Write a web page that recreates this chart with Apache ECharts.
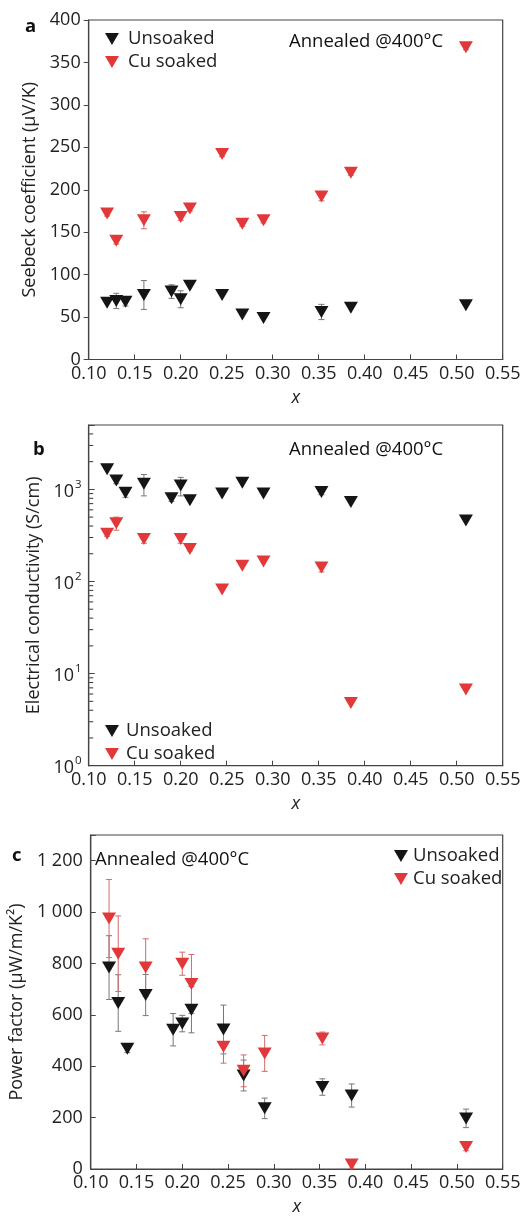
<!DOCTYPE html>
<html>
<head>
<meta charset="utf-8">
<script src="https://cdn.jsdelivr.net/npm/echarts@6/dist/echarts.min.js"></script>
<style>
  html, body { margin: 0; padding: 0; background: #fff; }
  #chart { width: 524px; height: 1217px; }
</style>
</head>
<body>
<div id="chart"></div>
<script>
// x positions (composition x)
var xUnsoaked = [0.12, 0.13, 0.14, 0.16, 0.19, 0.20, 0.21, 0.245, 0.267, 0.29, 0.353, 0.385, 0.51];
var xCuSoaked = [0.12, 0.13, 0.16, 0.20, 0.21, 0.245, 0.267, 0.29, 0.353, 0.385, 0.51];

// a: Seebeck coefficient (uV/K)
var seebeckUnsoaked = [67, 69, 68, 76, 80, 71, 87, 76, 53, 49, 56, 61, 64];
var seebeckUnsoakedErr = [0, 9, 5, 17, 8, 10, 0, 0, 0, 0, 9, 0, 0];
var seebeckCu = [172, 140, 164, 168, 178, 242, 160, 164, 192, 220, 368];
var seebeckCuErr = [3, 4, 10, 4, 3, 3, 3, 3, 5, 3, 3];

// b: electrical conductivity (S/cm)
var condUnsoaked = [1650, 1250, 920, 1150, 800, 1100, 760, 900, 1180, 900, 935, 730, 460];
var condUnsoakedErr = [0, 100, 100, 300, 60, 250, 0, 0, 0, 0, 60, 0, 0];
var condCu = [330, 430, 290, 290, 225, 82, 148, 165, 142, 4.8, 6.7];
var condCuErr = [20, 70, 30, 30, 10, 0, 0, 0, 15, 0, 0];

// c: power factor (uW/m/K^2)
var pfUnsoaked = [784, 646, 468, 677, 542, 566, 620, 543, 364, 236, 319, 286, 197];
var pfUnsoakedErr = [124, 110, 15, 80, 63, 32, 90, 95, 60, 40, 32, 45, 36];
var pfCu = [975, 838, 784, 799, 720, 476, 382, 450, 508, 18, 86];
var pfCuErr = [152, 147, 112, 45, 115, 64, 62, 70, 25, 15, 15];

// minor ticks of the log axis in panel b
var logMinor = [2, 3, 4, 5, 6, 7, 8, 9, 20, 30, 40, 50, 60, 70, 80, 90,
  200, 300, 400, 500, 600, 700, 800, 900, 2000, 3000, 4000];

var FONT = '"Open Sans", "Noto Sans", sans-serif';
var RED = '#e2383a';
var BLACK = '#151515';
var TRI = 'path://M0,0 L10,0 L5,8.6 Z';

var chart = echarts.init(document.getElementById('chart'));

function pairs(xs, ys) {
  return xs.map(function (x, i) { return [x, ys[i]]; });
}
function errData(xs, ys, es) {
  var out = [];
  xs.forEach(function (x, i) {
    if (es[i] > 0) out.push([x, ys[i] - es[i], ys[i] + es[i]]);
  });
  return out;
}
function errSeries(idx, data, color) {
  return {
    type: 'custom',
    name: 'err' + idx + color,
    xAxisIndex: idx,
    yAxisIndex: idx,
    z: 1,
    silent: true,
    encode: { x: 0, y: [1, 2] },
    data: data,
    renderItem: function (params, api) {
      var x = api.value(0);
      var top = api.coord([x, api.value(2)]);
      var bot = api.coord([x, api.value(1)]);
      var st = { stroke: color, lineWidth: 1 };
      return {
        type: 'group',
        children: [
          { type: 'line', shape: { x1: top[0], y1: top[1], x2: bot[0], y2: bot[1] }, style: st },
          { type: 'line', shape: { x1: top[0] - 3, y1: top[1], x2: top[0] + 3, y2: top[1] }, style: st },
          { type: 'line', shape: { x1: bot[0] - 3, y1: bot[1], x2: bot[0] + 3, y2: bot[1] }, style: st }
        ]
      };
    }
  };
}
function scatter(idx, name, data, color) {
  return {
    type: 'scatter',
    name: name,
    xAxisIndex: idx,
    yAxisIndex: idx,
    z: 3,
    symbol: TRI,
    symbolSize: [14, 12],
    itemStyle: { color: color, opacity: 1 },
    data: data
  };
}
function xAxis(idx) {
  return {
    gridIndex: idx,
    type: 'value',
    min: 0.1,
    max: 0.55,
    interval: 0.05,
    name: 'x',
    nameLocation: 'middle',
    nameGap: 29,
    nameTextStyle: { fontFamily: FONT, fontSize: 18, fontStyle: 'italic', color: '#222' },
    axisLine: { lineStyle: { color: '#444', width: 1.2 } },
    axisTick: { inside: true, length: 5, lineStyle: { color: '#444' } },
    axisLabel: {
      fontFamily: FONT, fontSize: 18, color: '#222', margin: 5,
      formatter: function (v) { return v.toFixed(2); }
    },
    splitLine: { show: false }
  };
}
function legend(left, top, gap) {
  return {
    left: left, top: top, orient: 'vertical',
    itemWidth: 14, itemHeight: 12, itemGap: 3,
    data: ['Unsoaked', 'Cu soaked'],
    textStyle: { fontFamily: FONT, fontSize: 18.5, color: '#222', lineHeight: 20, padding: [0, 0, 0, gap] },
    selectedMode: false
  };
}
function txt(x, y, s, bold) {
  return {
    type: 'text', left: x, top: y,
    style: { text: s, font: (bold ? 'bold ' : '') + '18.5px ' + FONT, fill: '#111', verticalAlign: 'middle' }
  };
}

var grids = [
  { left: 88.7, top: 20, width: 414, height: 339.5 },
  { left: 88.7, top: 425, width: 414, height: 340.7 },
  { left: 88.7, top: 835, width: 414, height: 339 }
].map(function (g) {
  return Object.assign({ show: true, borderColor: '#444', borderWidth: 1.2, backgroundColor: 'transparent' }, g);
});

var yName = { fontFamily: FONT, fontSize: 18, color: '#222' };
var yLab = { fontFamily: FONT, fontSize: 18, color: '#222', margin: 8 };

chart.setOption({
  animation: false,
  textStyle: { fontFamily: FONT },
  grid: grids,
  xAxis: [xAxis(0), xAxis(1), xAxis(2)],
  yAxis: [
    {
      gridIndex: 0, type: 'value', min: 0, max: 400, interval: 50,
      name: 'Seebeck coefficient (μV/K)', nameLocation: 'middle', nameGap: 44,
      nameTextStyle: yName,
      axisLine: { show: true, lineStyle: { color: '#444', width: 1.2 } },
      axisTick: { show: true, inside: false, length: 5, lineStyle: { color: '#444' } },
      axisLabel: yLab,
      splitLine: { show: false }
    },
    {
      gridIndex: 1, type: 'log', logBase: 10, min: 1, max: 5000,
      name: 'Electrical conductivity (S/cm)', nameLocation: 'middle', nameGap: 38,
      nameTextStyle: yName,
      axisLine: { show: true, lineStyle: { color: '#444', width: 1.2 } },
      axisTick: { show: true, inside: true, length: 6, lineStyle: { color: '#444' } },
      axisLabel: {
        fontFamily: FONT, color: '#222', margin: 7,
        formatter: function (v) {
          var e = Math.log(v) / Math.LN10;
          if (Math.abs(e - Math.round(e)) > 1e-6) return '';
          return '{b|10}{s|' + Math.round(e) + '}';
        },
        rich: {
          b: { fontFamily: FONT, fontSize: 18, color: '#222', lineHeight: 22, verticalAlign: 'bottom' },
          s: { fontFamily: FONT, fontSize: 11.5, color: '#222', lineHeight: 22, verticalAlign: 'top', padding: [0, 0, 0, 1] }
        }
      },
      splitLine: { show: false }
    },
    {
      gridIndex: 2, type: 'value', min: 0, max: 1300, interval: 200,
      name: 'Power factor (μW/m/K²)', nameLocation: 'middle', nameGap: 60,
      nameTextStyle: yName,
      axisLine: { show: true, lineStyle: { color: '#444', width: 1.2 } },
      axisTick: { show: true, inside: true, length: 5, lineStyle: { color: '#444' } },
      axisLabel: Object.assign({}, yLab, {
        formatter: function (v) {
          if (v > 1200) return '';
          var s = String(v);
          return s.length > 3 ? s.slice(0, s.length - 3) + ' ' + s.slice(-3) : s;
        }
      }),
      splitLine: { show: false }
    }
  ],
  legend: [legend(100, 24, 4), legend(100, 716, 2), legend(389, 841, 0)],
  graphic: [
    txt(25, 17, 'a', true),
    txt(33, 440, 'b', true),
    txt(12, 846, 'c', true),
    txt(289, 32, 'Annealed @400°C'),
    txt(289, 440, 'Annealed @400°C'),
    txt(95, 850, 'Annealed @400°C')
  ],
  series: [
    errSeries(0, errData(xUnsoaked, seebeckUnsoaked, seebeckUnsoakedErr), '#777'),
    errSeries(0, errData(xCuSoaked, seebeckCu, seebeckCuErr), '#d36a6a'),
    scatter(0, 'Unsoaked', pairs(xUnsoaked, seebeckUnsoaked), BLACK),
    scatter(0, 'Cu soaked', pairs(xCuSoaked, seebeckCu), RED),

    errSeries(1, errData(xUnsoaked, condUnsoaked, condUnsoakedErr), '#777'),
    errSeries(1, errData(xCuSoaked, condCu, condCuErr), '#d36a6a'),
    {
      type: 'custom', name: 'minorTicks', xAxisIndex: 1, yAxisIndex: 1, silent: true, z: 5,
      clip: false,
      encode: { x: 0, y: 1 },
      data: logMinor.map(function (v) { return [0.1, v]; }),
      renderItem: function (params, api) {
        var p = api.coord([0.1, api.value(1)]);
        return {
          type: 'line',
          shape: { x1: p[0] + 0.5, y1: p[1], x2: p[0] + 4.5, y2: p[1] },
          style: { stroke: '#333', lineWidth: 1 }
        };
      }
    },
    scatter(1, 'Unsoaked', pairs(xUnsoaked, condUnsoaked), BLACK),
    scatter(1, 'Cu soaked', pairs(xCuSoaked, condCu), RED),

    errSeries(2, errData(xUnsoaked, pfUnsoaked, pfUnsoakedErr), '#777'),
    errSeries(2, errData(xCuSoaked, pfCu, pfCuErr), '#d36a6a'),
    scatter(2, 'Unsoaked', pairs(xUnsoaked, pfUnsoaked), BLACK),
    scatter(2, 'Cu soaked', pairs(xCuSoaked, pfCu), RED)
  ]
});
</script>
</body>
</html>
